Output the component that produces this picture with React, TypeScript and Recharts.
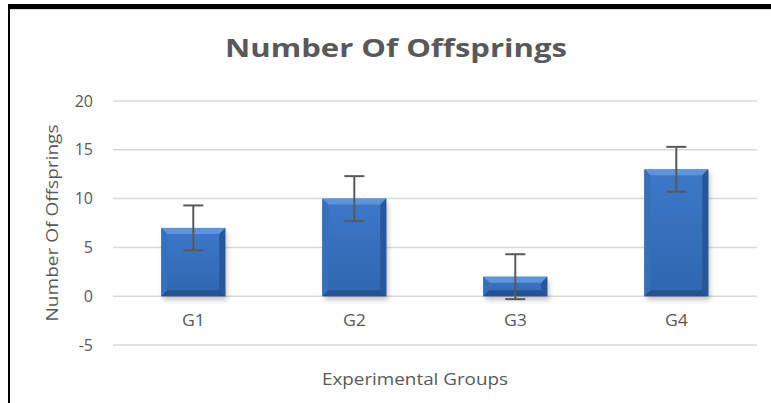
import React from "react";
import { BarChart, Bar, XAxis, YAxis, CartesianGrid, ErrorBar } from "recharts";

const categories = ["G1", "G2", "G3", "G4"];
const offspringValues = [7, 10, 2, 13];
const errorValues = [2.3, 2.3, 2.3, 2.3];
const yTicks = [-5, 0, 5, 10, 15, 20];

const data = categories.map((name, i) => ({
  name,
  value: offspringValues[i],
  err: errorValues[i],
}));

const FONT = "'Open Sans', sans-serif";
const TEXT = "#595959";

const BevelBar = (props: any) => {
  const { x, y, width, height } = props;
  if (width == null || height == null) return null;
  const h = Math.abs(height);
  const top = height >= 0 ? y : y + height;
  const b = Math.min(6, h / 2, width / 2);
  return (
    <g>
      <rect x={x + 2} y={top + 4} width={width} height={h} fill="#000" opacity={0.22} filter="url(#shadowBlur)" />
      <rect x={x} y={top} width={width} height={h} fill="url(#barGrad)" />
      <polygon points={`${x},${top} ${x + width},${top} ${x + width - b},${top + b} ${x + b},${top + b}`} fill="#5f93dc" />
      <polygon points={`${x},${top} ${x + b},${top + b} ${x + b},${top + h - b} ${x},${top + h}`} fill="#3570bd" />
      <polygon points={`${x + width},${top} ${x + width - b},${top + b} ${x + width - b},${top + h - b} ${x + width},${top + h}`} fill="#24579c" />
      <polygon points={`${x},${top + h} ${x + b},${top + h - b} ${x + width - b},${top + h - b} ${x + width},${top + h}`} fill="#25528f" />
    </g>
  );
};

const XTick = (props: any) => {
  const { x, y, payload } = props;
  return (
    <text x={x} y={y} textAnchor="middle" fill={TEXT} fontSize={16} fontFamily={FONT} dy="0.71em" textLength={23} lengthAdjust="spacingAndGlyphs">
      {payload.value}
    </text>
  );
};

export default function App() {
  return (
    <div style={{ position: "fixed", left: 0, top: 0, width: 771, height: 403, background: "#fff", overflow: "hidden" }}>
      <div style={{ position: "absolute", left: 8, top: 4, width: 800, height: 420, borderTop: "5px solid #000", borderLeft: "2px solid #000" }} />
      <div style={{ position: "absolute", left: 10, top: 9, width: 800, height: 1, background: "#d9d9d9" }} />
      <svg style={{ position: "absolute", left: 0, top: 0 }} width={771} height={80}>
        <text x={396} y={57} textAnchor="middle" fill={TEXT} fontSize={25} fontWeight={700} fontFamily={FONT} textLength={342} lengthAdjust="spacingAndGlyphs">
          Number Of Offsprings
        </text>
      </svg>
      <div style={{ position: "absolute", left: 0, top: 0 }}>
        <BarChart width={771} height={403} data={data} margin={{ top: 101, right: 14, bottom: 0, left: 0 }} barCategoryGap="30%">
          <defs>
            <linearGradient id="barGrad" x1="0" y1="0" x2="0" y2="1">
              <stop offset="0%" stopColor="#3d79c9" />
              <stop offset="100%" stopColor="#2f66b0" />
            </linearGradient>
            <filter id="shadowBlur" x="-20%" y="-20%" width="140%" height="140%">
              <feGaussianBlur stdDeviation="2.5" />
            </filter>
          </defs>
          <CartesianGrid vertical={false} stroke="#d9d9d9" strokeWidth={1.5} />
          <XAxis
            dataKey="name"
            axisLine={false}
            tickLine={false}
            tick={<XTick />}
            tickMargin={-36}
            height={58}
            label={(p: any) => {
              const vb = p.viewBox;
              return (
                <text x={415} y={vb.y + 40} textAnchor="middle" fill={TEXT} fontSize={16} fontFamily={FONT} textLength={186} lengthAdjust="spacingAndGlyphs">
                  Experimental Groups
                </text>
              );
            }}
          />
          <YAxis
            domain={[-5, 20]}
            ticks={yTicks}
            axisLine={false}
            tickLine={false}
            width={113}
            tickMargin={14}
            interval={0}
            tick={{ fill: TEXT, fontSize: 16, fontFamily: FONT }}
            label={(p: any) => {
              const vb = p.viewBox;
              const cx = 52;
              const cy = vb.y + vb.height / 2;
              return (
                <text x={cx} y={cy} transform={`rotate(-90, ${cx}, ${cy})`} textAnchor="middle" dominantBaseline="central" fill={TEXT} fontSize={16} fontFamily={FONT} textLength={197} lengthAdjust="spacingAndGlyphs">
                  Number Of Offsprings
                </text>
              );
            }}
          />
          <Bar dataKey="value" shape={<BevelBar />} isAnimationActive={false}>
            <ErrorBar dataKey="err" width={10} strokeWidth={2} stroke="#595959" />
          </Bar>
        </BarChart>
      </div>
    </div>
  );
}
